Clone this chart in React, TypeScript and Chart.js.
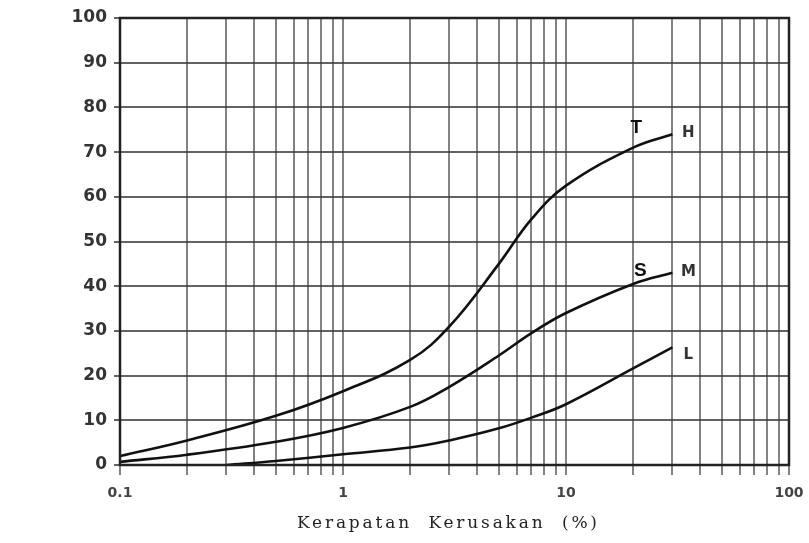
import React, { useEffect, useRef } from 'react';
import { Chart, registerables } from 'chart.js';
Chart.register(...registerables);

// Kerapatan Kerusakan (%) values (log axis)
const hX = [0.1, 0.2, 0.5, 1, 2, 3, 5, 7, 10, 20, 30];
const hY = [2, 5.5, 11, 16.5, 23.5, 31, 45, 55, 62.5, 71, 74];

const mX = [0.1, 0.2, 0.5, 1, 2, 3, 5, 7, 10, 20, 30];
const mY = [0.7, 2.3, 5.2, 8.3, 13, 17.5, 24.5, 29.5, 34, 40.5, 43];

const lX = [0.3, 0.5, 1, 2, 3, 5, 7, 10, 20, 30];
const lY = [0, 0.9, 2.4, 3.9, 5.5, 8.2, 10.6, 13.6, 21.6, 26.3];

const seriesNames = ['H', 'M', 'L'];
const sideNames = ['T', 'S'];

const xTickValues = [0.1, 1, 10, 100];
const xTickLabels = ['0.1', '1', '10', '100'];
const xGridValues = [
  0.1, 0.2, 0.3, 0.4, 0.5, 0.6, 0.7, 0.8, 0.9,
  1, 2, 3, 4, 5, 6, 7, 8, 9,
  10, 20, 30, 40, 50, 60, 70, 80, 90, 100,
];
const xTitle = 'Kerapatan  Kerusakan  (%)';

const toPts = (xs: number[], ys: number[]) => xs.map((x, i) => ({ x, y: ys[i] }));

export default function App() {
  const ref = useRef<HTMLCanvasElement>(null);
  useEffect(() => {
    if (!ref.current) return;
    const plugin = {
      id: 'decor',
      afterDraw(chart: any) {
        const { ctx, chartArea, scales } = chart;
        const xs = scales.x, ys = scales.y;
        ctx.save();
        ctx.strokeStyle = '#222';
        ctx.lineWidth = 2.5;
        ctx.strokeRect(chartArea.left, chartArea.top, chartArea.right - chartArea.left, chartArea.bottom - chartArea.top);
        ctx.textAlign = 'center';
        ctx.textBaseline = 'middle';
        const ends = [
          [hX[hX.length - 1], hY[hY.length - 1]],
          [mX[mX.length - 1], mY[mY.length - 1]],
          [lX[lX.length - 1], lY[lY.length - 1]],
        ];
        ends.forEach((e, i) => {
          const px = xs.getPixelForValue(e[0]);
          const py = ys.getPixelForValue(e[1]);
          ctx.font = 'bold 15px "DejaVu Sans", sans-serif';
          ctx.fillStyle = '#333';
          ctx.fillText(seriesNames[i], px + 16, py + (i === 2 ? 8 : -1));
          if (i < 2) {
            ctx.font = 'bold 19px "Liberation Sans", Arial, sans-serif';
            ctx.fillStyle = '#111';
            ctx.fillText(sideNames[i], px - (i === 0 ? 36 : 32), py - (i === 0 ? 6 : 2));
          }
        });
        // axis title
        ctx.font = '17px "DejaVu Serif", serif';
        ctx.fillStyle = '#222';
        const target = 300;
        const w0 = ctx.measureText(xTitle).width;
        const sp = Math.max(0, (target - w0) / (xTitle.length - 1));
        (ctx as any).letterSpacing = sp + 'px';
        ctx.textAlign = 'left';
        ctx.fillText(xTitle, 447 - target / 2, 524);
        ctx.restore();
      },
    };
    const chart = new Chart(ref.current, {
      type: 'line',
      data: {
        datasets: [
          { label: seriesNames[0], data: toPts(hX, hY) },
          { label: seriesNames[1], data: toPts(mX, mY) },
          { label: seriesNames[2], data: toPts(lX, lY) },
        ].map((d) => ({
          ...d,
          borderColor: '#111',
          borderWidth: 2.6,
          pointRadius: 0,
          fill: false,
          tension: 0.4,
        })),
      },
      options: {
        responsive: false,
        animation: false,
        devicePixelRatio: 1,
        layout: { padding: { top: 18, right: 20, left: 0, bottom: 0 } },
        plugins: { legend: { display: false }, tooltip: { enabled: false } },
        scales: {
          x: {
            type: 'logarithmic',
            min: 0.1,
            max: 100,
            afterBuildTicks: (scale: any) => {
              scale.ticks = xGridValues.map((v) => ({ value: v }));
            },
            afterFit: (scale: any) => {
              scale.height = 78;
              scale.paddingLeft = 0;
              scale.paddingRight = 0;
            },
            grid: { color: 'rgba(90,90,90,0.75)', lineWidth: 2, tickLength: 10 },
            border: { display: false },
            ticks: {
              autoSkip: false,
              maxRotation: 0,
              padding: 10,
              color: '#444',
              font: { family: '"DejaVu Sans", sans-serif', size: 14, weight: 'bold' },
              callback: (v: any) => {
                const idx = xTickValues.findIndex((t) => Math.abs(t - Number(v)) < 1e-9);
                return idx >= 0 ? xTickLabels[idx] : '';
              },
            },
          },
          y: {
            min: 0,
            max: 100,
            afterFit: (scale: any) => {
              scale.width = 120;
              scale.paddingTop = 0;
              scale.paddingBottom = 0;
            },
            grid: { color: 'rgba(60,60,60,0.8)', lineWidth: 2, tickLength: 6 },
            border: { display: false },
            ticks: {
              stepSize: 10,
              padding: 7,
              color: '#333',
              font: { family: '"DejaVu Sans", sans-serif', size: 17, weight: 'bold' },
            },
          },
        },
      },
      plugins: [plugin],
    } as any);
    return () => chart.destroy();
  }, []);
  return (
    <div style={{ position: 'absolute', left: 0, top: 0, width: 809, height: 543, background: '#fff' }}>
      <canvas ref={ref} width={809} height={543} />
    </div>
  );
}
